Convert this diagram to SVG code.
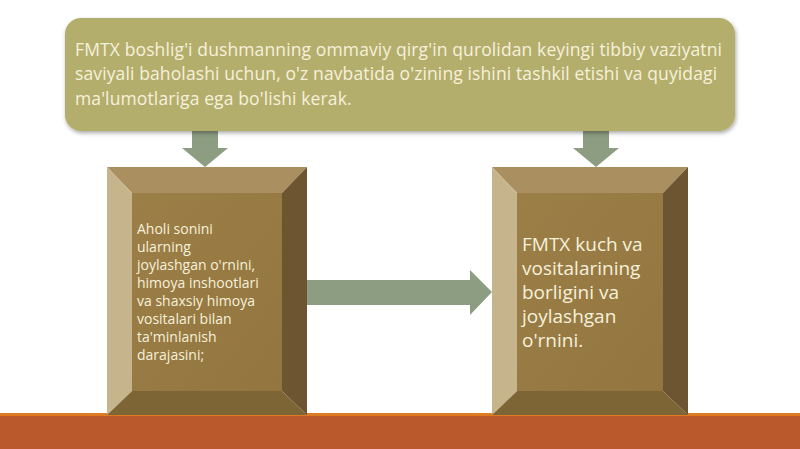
<svg xmlns="http://www.w3.org/2000/svg" width="800" height="449" viewBox="0 0 800 449">
<defs>
<filter id="sh" x="-5%" y="-10%" width="110%" height="130%">
<feDropShadow dx="1" dy="2" stdDeviation="2" flood-color="#000" flood-opacity="0.35"/>
</filter>
<linearGradient id="face" x1="0" y1="0" x2="1" y2="1">
<stop offset="0" stop-color="#9c7f47"/>
<stop offset="1" stop-color="#93763f"/>
</linearGradient>
</defs>
<style>
.bt{fill:#aa9060}.bl{fill:#c6b48c}.br{fill:#6c5530}.bb{fill:#7d6536}
.face{fill:url(#face)}
.arr{fill:#8d9d82}
.t{font-family:"Open Sans","Noto Sans",sans-serif;fill:#f6f1dc}
.tt{font-size:17.5px;letter-spacing:0.12px}
</style>
<rect width="800" height="449" fill="#ffffff"/>
<g id="band">
<rect x="0" y="413" width="800" height="36" fill="#b9592c"/>
<rect x="0" y="413" width="800" height="3" fill="#de7a22"/>
</g>
<g id="connectors">
<polygon class="arr" points="192,128 218,128 218,148 228,148 205,167 182,148 192,148"/>
<polygon class="arr" points="583,128 609,128 609,148 619,148 596,167 573,148 583,148"/>
<polygon class="arr" points="307,280 470,280 470,270 492,292 470,315 470,305 307,305"/>
</g>
<g id="top">
<rect x="65" y="18" width="670" height="113" rx="16" fill="#b4ae6c" filter="url(#sh)"/>
<text class="t tt" x="75" y="56">FMTX boshlig'i dushmanning ommaviy qirg'in qurolidan keyingi tibbiy vaziyatni</text>
<text class="t tt" x="75" y="80">saviyali baholashi uchun, o'z navbatida o'zining ishini tashkil etishi va quyidagi</text>
<text class="t tt" x="75" y="105">ma'lumotlariga ega bo'lishi kerak.</text>
</g>
<g id="left">
<polygon class="bt" points="107,167 307,167 282,193 132,193"/>
<polygon class="bl" points="107,167 132,193 132,391 107,415"/>
<polygon class="br" points="307,167 307,415 282,391 282,193"/>
<polygon class="bb" points="107,415 132,391 282,391 307,415"/>
<rect class="face" x="132" y="193" width="150" height="198"/>
<text class="t" font-size="14" x="137">
<tspan x="137" y="234">Aholi sonini</tspan>
<tspan x="137" y="252">ularning</tspan>
<tspan x="137" y="270">joylashgan o'rnini,</tspan>
<tspan x="137" y="288">himoya inshootlari</tspan>
<tspan x="137" y="306">va shaxsiy himoya</tspan>
<tspan x="137" y="324">vositalari bilan</tspan>
<tspan x="137" y="342">ta'minlanish</tspan>
<tspan x="137" y="360">darajasini;</tspan>
</text>
</g>
<g id="right">
<polygon class="bt" points="492,167 688,167 663,193 517,193"/>
<polygon class="bl" points="492,167 517,193 517,391 492,415"/>
<polygon class="br" points="688,167 688,415 663,391 663,193"/>
<polygon class="bb" points="492,415 517,391 663,391 688,415"/>
<rect class="face" x="517" y="193" width="146" height="198"/>
<text class="t" font-size="19" x="522">
<tspan x="522" y="251">FMTX kuch va</tspan>
<tspan x="522" y="275">vositalarining</tspan>
<tspan x="522" y="299">borligini va</tspan>
<tspan x="522" y="323">joylashgan</tspan>
<tspan x="522" y="347">o'rnini.</tspan>
</text>
</g>
</svg>
